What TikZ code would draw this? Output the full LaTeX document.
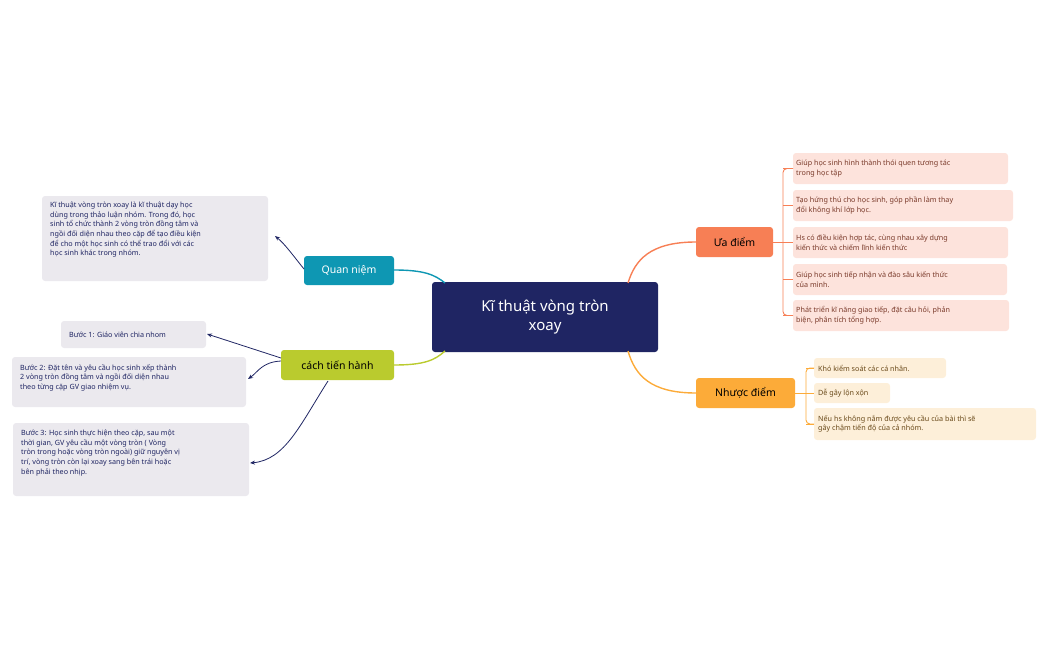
\documentclass[tikz,border=0pt]{standalone}
\usepackage{fontspec}
\setmainfont{Noto Sans}
\usetikzlibrary{arrows.meta}
\definecolor{navy}{HTML}{1F2563}
\definecolor{qn}{HTML}{0E97B3}
\definecolor{ct}{HTML}{BACB2E}
\definecolor{ud}{HTML}{F77F55}
\definecolor{nd}{HTML}{FCAB39}
\definecolor{gbox}{HTML}{EBE9EE}
\definecolor{pbox}{HTML}{FDE3DC}
\definecolor{ybox}{HTML}{FDEFD9}
\definecolor{ptxt}{HTML}{7A3A2A}
\definecolor{ytxt}{HTML}{6A4A1A}
\tikzset{
 x=1pt,y=-1pt,
 box/.style={rounded corners=3pt,align=left,inner sep=0pt},
 leaf/.style={font=\fontsize{7.2}{9.6}\selectfont,text=navy},
 br/.style={rounded corners=4pt,font=\fontsize{10.5}{12}\selectfont},
 arr/.style={navy,line width=0.8pt,-{Stealth[length=5pt,width=4pt]}},
}
\newcommand{\bx}[6]{\fill[#5,rounded corners=3pt] (#1,#2) rectangle (#3,#4); \node[box,anchor=north west,#6] at (#1+6,#2+5)}
\begin{document}
\begin{tikzpicture}
\useasboundingbox (0,0) rectangle (1049,650);
% center
\fill[navy,rounded corners=3pt] (432,282) rectangle (658,352);
\node[text=white,align=center,font=\fontsize{15}{19}\selectfont] (c) at (545,317) {Kĩ thuật vòng tròn\\xoay};
\coordinate (cqn) at (445,283);
\coordinate (cct) at (445,351);
\coordinate (cud) at (628,283);
\coordinate (cnd) at (628,351);
% branches
\fill[qn,rounded corners=3pt] (304,256) rectangle (394,285);
\node[text=white,br] (qn) at (349,270.5) {Quan niệm};
\fill[ct,rounded corners=3pt] (281,350) rectangle (394,380);
\node[text=black,br] (ct) at (337.5,365) {cách tiến hành};
\fill[ud,rounded corners=3pt] (696,227) rectangle (773,257);
\node[text=black,br] (ud) at (734.5,242) {Ưa điểm};
\fill[nd,rounded corners=3pt] (696,378) rectangle (795,408);
\node[text=black,br] (nd) at (745.5,393) {Nhược điểm};
\draw[qn,line width=1.4pt] (394,270) .. controls (425,270) and (435,275) .. (cqn);
\draw[ct,line width=1.4pt] (394,365) .. controls (425,365) and (435,360) .. (cct);
\draw[ud,line width=1.4pt] (696,242) .. controls (650,242) and (635,260) .. (cud);
\draw[nd,line width=1.4pt] (696,393) .. controls (650,393) and (635,375) .. (cnd);
% left leaves
\fill[gbox,rounded corners=3pt] (42,196) rectangle (268,281);
\node[box,leaf,anchor=north west] (t0) at (50,202) {Kĩ thuật vòng tròn xoay là kĩ thuật dạy học\\dùng trong thảo luận nhóm. Trong đó, học\\sinh tổ chức thành 2 vòng tròn đồng tâm và\\ngồi đối diện nhau theo cặp để tạo điều kiện\\để cho một học sinh có thể trao đổi với các\\học sinh khác trong nhóm.};
\coordinate (a0) at (275,236);
\fill[gbox,rounded corners=3pt] (61,321) rectangle (206,348);
\node[box,leaf,anchor=west] (t1) at (69,334.5) {Bước 1: Giáo viên chia nhom};
\coordinate (a1) at (207,334);
\fill[gbox,rounded corners=3pt] (12,357) rectangle (246,407);
\node[box,leaf,anchor=north west] (t2) at (20,364) {Bước 2: Đặt tên và yêu cầu học sinh xếp thành\\2 vòng tròn đồng tâm và ngồi đối diện nhau\\theo từng cặp GV giao nhiệm vụ.};
\coordinate (a2) at (248,379);
\fill[gbox,rounded corners=3pt] (13,423) rectangle (249,496);
\node[box,leaf,anchor=north west] (t3) at (21,430) {Bước 3: Học sinh thực hiện theo cặp, sau một\\thời gian, GV yêu cầu một vòng tròn ( Vòng\\tròn trong hoặc vòng tròn ngoài) giữ nguyên vị\\trí, vòng tròn còn lại xoay sang bên trái hoặc\\bên phải theo nhịp.};
\coordinate (a3) at (250,463);
\draw[arr] (304,269) .. controls (295,258) and (285,244) .. (a0);
\draw[arr] (281,358) -- (a1);
\draw[arr] (281,361) .. controls (262,362) and (258,372) .. (a2);
\draw[arr] (328,381) .. controls (300,425) and (285,460) .. (a3);
% right pink leaves
\foreach \ya/\yb/\xb/\t [count=\i] in {
 153/184/1008/{Giúp học sinh hình thành thói quen tương tác\\trong học tập},
 190/221/1013/{Tạo hứng thú cho học sinh, góp phần làm thay\\đổi không khí lớp học.},
 227/258/1008/{Hs có điều kiện hợp tác, cùng nhau xây dựng\\kiến thức và chiếm lĩnh kiến thức},
 264/295/1007/{Giúp học sinh tiếp nhận và đào sâu kiến thức\\của mình.},
 300/331/1009/{Phát triển kĩ năng giao tiếp, đặt câu hỏi, phản\\biện, phân tích tổng hợp.}}{
 \fill[pbox,rounded corners=3pt] (793,\ya) rectangle (\xb,\yb);
 \node[box,leaf,text=ptxt,anchor=west] (p\i) at (796,{(\ya+\yb)/2}) {\t};
 \draw[ud,line width=0.9pt,rounded corners=4pt] (783,{(\ya+\yb)/2}) -- (793,{(\ya+\yb)/2});
}
\draw[ud,line width=0.9pt,rounded corners=4pt] (793,168.5) -- (783,168.5) -- (783,315.5) -- (793,315.5);
\draw[ud,line width=0.9pt] (773,242) -- (783,242);
% right yellow leaves
\foreach \ya/\yb/\xb/\t [count=\i] in {
 358/378/946/{Khó kiểm soát các cá nhân.},
 383/403/890/{Dễ gây lộn xộn},
 408/440/1036/{Nếu hs không nắm được yêu cầu của bài thì sẽ\\gây chậm tiến độ của cả nhóm.}}{
 \fill[ybox,rounded corners=3pt] (814,\ya) rectangle (\xb,\yb);
 \node[box,leaf,text=ytxt,anchor=west] (y\i) at (818,{(\ya+\yb)/2}) {\t};
 \draw[nd,line width=0.9pt] (806,{(\ya+\yb)/2}) -- (814,{(\ya+\yb)/2});
}
\draw[nd,line width=0.9pt,rounded corners=4pt] (814,368) -- (806,368) -- (806,424) -- (814,424);
\draw[nd,line width=0.9pt] (795,393) -- (806,393);
\end{tikzpicture}
\end{document}
